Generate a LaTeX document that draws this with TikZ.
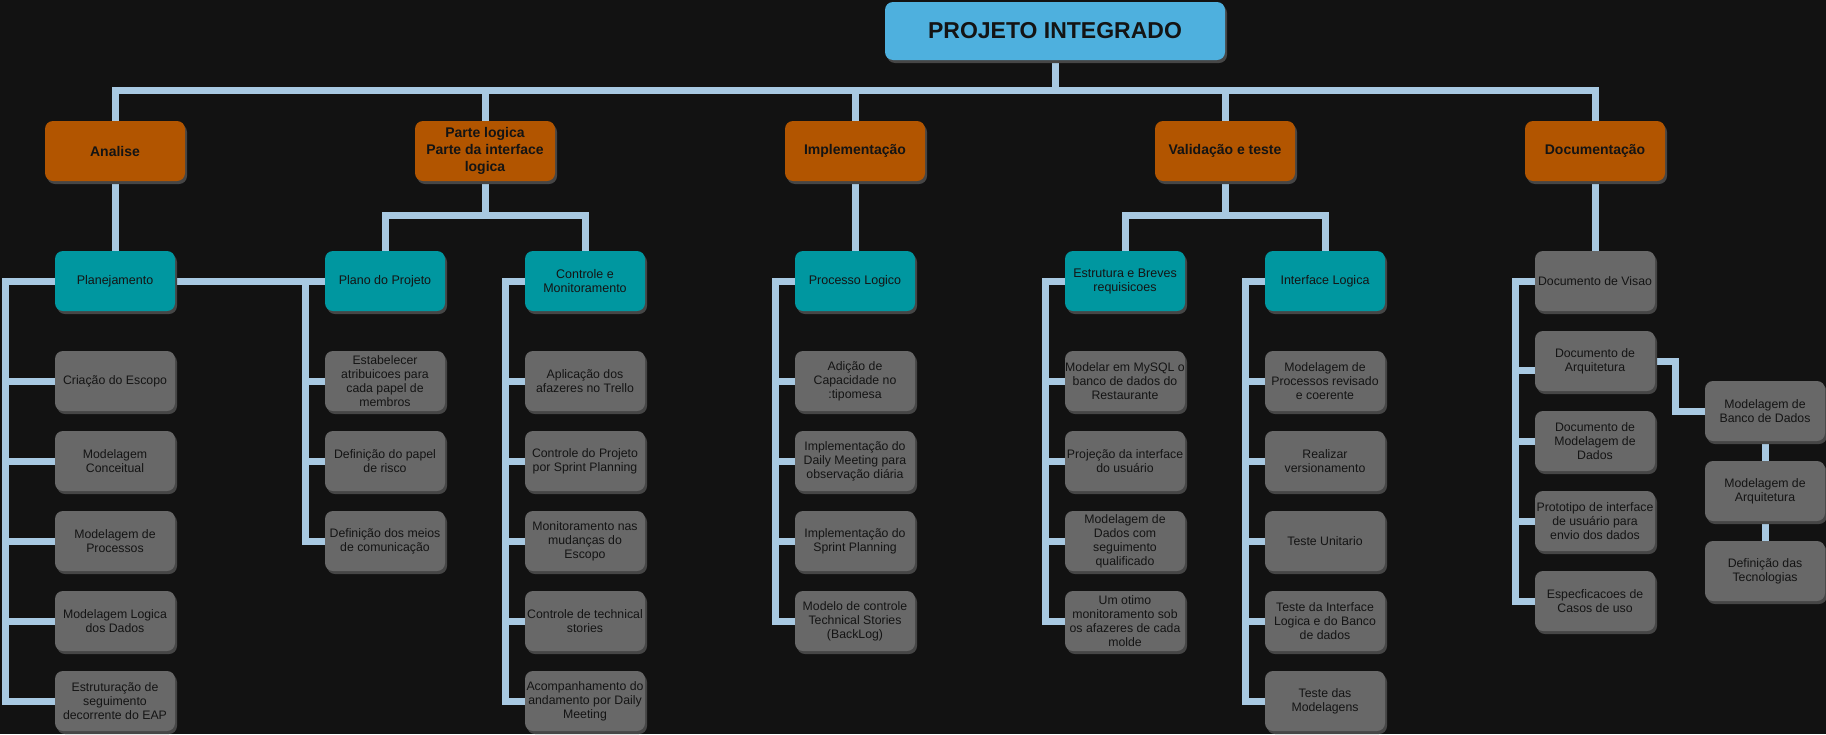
\documentclass[tikz,border=0pt]{standalone}
\usepackage{fontspec}
\setmainfont{Liberation Sans}
\usetikzlibrary{shadows,backgrounds}
\definecolor{bgc}{HTML}{121212}
\definecolor{rootblue}{HTML}{4EB0DE}
\definecolor{phaseorange}{HTML}{B25500}
\definecolor{groupteal}{HTML}{0097A0}
\definecolor{taskgray}{HTML}{686868}
\definecolor{connblue}{HTML}{A8C9E2}
\definecolor{shade}{HTML}{464646}
\definecolor{txt}{HTML}{141414}
\begin{document}
\begin{tikzpicture}[x=1pt,y=-1pt,
  box/.style={rounded corners=8pt, inner sep=0pt, align=center, text=txt,
    drop shadow={shadow xshift=2pt, shadow yshift=-3pt, fill=shade, opacity=1}},
  rootbox/.style={box, fill=rootblue, minimum width=340pt, minimum height=58pt,
    font=\fontsize{23}{27}\selectfont\bfseries},
  phase/.style={box, fill=phaseorange, minimum width=140pt, minimum height=60pt,
    font=\fontsize{14}{17}\selectfont\bfseries},
  group/.style={box, fill=groupteal, minimum width=120pt, minimum height=60pt,
    font=\fontsize{12.5}{14}\selectfont},
  task/.style={box, fill=taskgray, minimum width=120pt, minimum height=60pt,
    font=\fontsize{12.3}{14}\selectfont},
  conn/.style={draw=connblue, line width=7pt, line join=miter}
]
\useasboundingbox (0,0) rectangle (1826,734);

% root and phases
\node[rootbox] (root) at (1055,31) {PROJETO INTEGRADO};
\node[phase] (analise) at (115,151) {Analise};
\node[phase] (parte) at (485,151) {Parte logica\\Parte da interface\\logica};
\node[phase] (impl) at (855,151) {Implementação};
\node[phase] (valid) at (1225,151) {Validação e teste};
\node[phase] (docu) at (1595,151) {Documentação};

% level 2
\node[group] (plan) at (115,281) {Planejamento};
\node[group] (planoproj) at (385,281) {Plano do Projeto};
\node[group] (ctrl) at (585,281) {Controle e\\Monitoramento};
\node[group] (proc) at (855,281) {Processo Logico};
\node[group] (estr) at (1125,281) {Estrutura e Breves\\requisicoes};
\node[group] (intf) at (1325,281) {Interface Logica};
\node[task] (dvis) at (1595,281) {Documento de Visao};

% Planejamento children
\node[task] (a1) at (115,381) {Criação do Escopo};
\node[task] (a2) at (115,461) {Modelagem\\Conceitual};
\node[task] (a3) at (115,541) {Modelagem de\\Processos};
\node[task] (a4) at (115,621) {Modelagem Logica\\dos Dados};
\node[task] (a5) at (115,701) {Estruturação de\\seguimento\\decorrente do EAP};

% Plano do Projeto children
\node[task] (b1) at (385,381) {Estabelecer\\atribuicoes para\\cada papel de\\membros};
\node[task] (b2) at (385,461) {Definição do papel\\de risco};
\node[task] (b3) at (385,541) {Definição dos meios\\de comunicação};

% Controle children
\node[task] (k1) at (585,381) {Aplicação dos\\afazeres no Trello};
\node[task] (k2) at (585,461) {Controle do Projeto\\por Sprint Planning};
\node[task] (k3) at (585,541) {Monitoramento nas\\mudanças do\\Escopo};
\node[task] (k4) at (585,621) {Controle de technical\\stories};
\node[task] (k5) at (585,701) {Acompanhamento do\\andamento por Daily\\Meeting};

% Processo Logico children
\node[task] (p1) at (855,381) {Adição de\\Capacidade no\\:tipomesa};
\node[task] (p2) at (855,461) {Implementação do\\Daily Meeting para\\observação diária};
\node[task] (p3) at (855,541) {Implementação do\\Sprint Planning};
\node[task] (p4) at (855,621) {Modelo de controle\\Technical Stories\\(BackLog)};

% Estrutura children
\node[task] (e1) at (1125,381) {Modelar em MySQL o\\banco de dados do\\Restaurante};
\node[task] (e2) at (1125,461) {Projeção da interface\\do usuário};
\node[task] (e3) at (1125,541) {Modelagem de\\Dados com\\seguimento\\qualificado};
\node[task] (e4) at (1125,621) {Um otimo\\monitoramento sob\\os afazeres de cada\\molde};

% Interface Logica children
\node[task] (i1) at (1325,381) {Modelagem de\\Processos revisado\\e coerente};
\node[task] (i2) at (1325,461) {Realizar\\versionamento};
\node[task] (i3) at (1325,541) {Teste Unitario};
\node[task] (i4) at (1325,621) {Teste da Interface\\Logica e do Banco\\de dados};
\node[task] (i5) at (1325,701) {Teste das\\Modelagens};

% Documentacao children
\node[task] (darq) at (1595,361) {Documento de\\Arquitetura};
\node[task] (dmod) at (1595,441) {Documento de\\Modelagem de\\Dados};
\node[task] (dproto) at (1595,521) {Prototipo de interface\\de usuário para\\envio dos dados};
\node[task] (despec) at (1595,601) {Especficacoes de\\Casos de uso};
\node[task] (banco) at (1765,411) {Modelagem de\\Banco de Dados};
\node[task] (arq2) at (1765,491) {Modelagem de\\Arquitetura};
\node[task] (tec) at (1765,571) {Definição das\\Tecnologias};

% helper coordinates
\coordinate (barY) at (0,90);
\coordinate (brY) at (0,215);
\coordinate (xA) at (5,0);
\coordinate (xB) at (305,0);
\coordinate (xC) at (505,0);
\coordinate (xD) at (775,0);
\coordinate (xE) at (1045,0);
\coordinate (xF) at (1245,0);
\coordinate (xG) at (1515,0);
\coordinate (xH) at (1675,0);

\begin{pgfonlayer}{background}
\fill[bgc] (0,0) rectangle (1826,734);
% top bar
\draw[conn] (analise.north) |- (docu.north |- barY) -- (docu.north);
\draw[conn] (root.south) -- (root.south |- barY);
\foreach \n in {parte,impl,valid}{
  \draw[conn] (\n.north) -- (\n.north |- barY);
}
% phase to groups
\draw[conn] (analise.south) -- (plan.north);
\draw[conn] (impl.south) -- (proc.north);
\draw[conn] (docu.south) -- (dvis.north);
\draw[conn] (parte.south) -- (parte.south |- brY);
\draw[conn] (planoproj.north) |- (ctrl.north |- brY) -- (ctrl.north);
\draw[conn] (valid.south) -- (valid.south |- brY);
\draw[conn] (estr.north) |- (intf.north |- brY) -- (intf.north);
\draw[conn] (plan.east) -- (planoproj.west);
% Planejamento tree
\draw[conn] (plan.west) -- (plan.west -| xA) |- (a5.west);
\foreach \n in {a1,a2,a3,a4}{\draw[conn] (\n.west -| xA) -- (\n.west);}
% Plano do Projeto tree
\draw[conn] (planoproj.west) -- (planoproj.west -| xB) |- (b3.west);
\foreach \n in {b1,b2}{\draw[conn] (\n.west -| xB) -- (\n.west);}
% Controle tree
\draw[conn] (ctrl.west) -- (ctrl.west -| xC) |- (k5.west);
\foreach \n in {k1,k2,k3,k4}{\draw[conn] (\n.west -| xC) -- (\n.west);}
% Processo tree
\draw[conn] (proc.west) -- (proc.west -| xD) |- (p4.west);
\foreach \n in {p1,p2,p3}{\draw[conn] (\n.west -| xD) -- (\n.west);}
% Estrutura tree
\draw[conn] (estr.west) -- (estr.west -| xE) |- (e4.west);
\foreach \n in {e1,e2,e3}{\draw[conn] (\n.west -| xE) -- (\n.west);}
% Interface tree
\draw[conn] (intf.west) -- (intf.west -| xF) |- (i5.west);
\foreach \n in {i1,i2,i3,i4}{\draw[conn] (\n.west -| xF) -- (\n.west);}
% Documentacao tree
\draw[conn] (dvis.west) -- (dvis.west -| xG) |- (despec.west);
\draw[conn] ([yshift=-9pt]darq.west -| xG) -- ([yshift=-9pt]darq.west);
\foreach \n in {dmod,dproto}{\draw[conn] (\n.west -| xG) -- (\n.west);}
% Arquitetura to modelagem chain
\draw[conn] (darq.east) -- (darq.east -| xH) |- (banco.west);
\draw[conn] (banco.south) -- (arq2.north);
\draw[conn] (arq2.south) -- (tec.north);
\end{pgfonlayer}
\end{tikzpicture}
\end{document}
